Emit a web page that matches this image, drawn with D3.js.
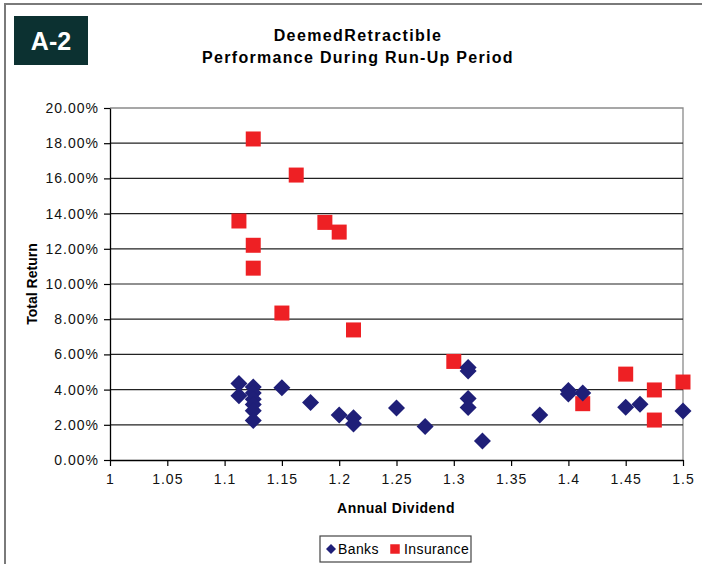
<!DOCTYPE html>
<html><head><meta charset="utf-8">
<script src="https://cdn.jsdelivr.net/npm/d3@7"></script>
<style>body{margin:0;background:#fff}svg{display:block;font-family:"Liberation Sans",Arial,sans-serif}</style>
</head><body><svg id="c" width="702" height="564"></svg>
<script>
const xTicks=[1,1.05,1.1,1.15,1.2,1.25,1.3,1.35,1.4,1.45,1.5];
const xTickLabels=["1","1.05","1.1","1.15","1.2","1.25","1.3","1.35","1.4","1.45","1.5"];
const yTicks=[0,2,4,6,8,10,12,14,16,18,20];
const yTickLabels=["0.00%","2.00%","4.00%","6.00%","8.00%","10.00%","12.00%","14.00%","16.00%","18.00%","20.00%"];
const banksX=[1.1125,1.1125,1.125,1.125,1.125,1.125,1.125,1.125,1.15,1.175,1.2,1.2125,1.2125,1.25,1.275,1.3125,1.3125,1.3125,1.3125,1.325,1.375,1.4,1.4,1.4125,1.45,1.4625,1.5];
const banksY=[4.35,3.65,4.15,3.8,3.45,3.15,2.8,2.25,4.1,3.27,2.55,2.4,2.05,2.95,1.9,5.25,5.05,3.5,2.98,1.08,2.56,3.95,3.75,3.8,3.0,3.17,2.78];
const insX=[1.125,1.1625,1.1125,1.125,1.125,1.1875,1.2,1.15,1.2125,1.3,1.4125,1.45,1.475,1.475,1.5];
const insY=[18.24,16.19,13.58,12.2,10.9,13.5,12.95,8.35,7.39,5.6,3.2,4.88,3.98,2.27,4.43];

const svg=d3.select("#c");
svg.append("rect").attr("x",5).attr("y",4).attr("width",700).attr("height",570).attr("fill","none").attr("stroke","#7a7a7a").attr("stroke-width",2);
svg.append("rect").attr("x",14).attr("y",16).attr("width",74).attr("height",49).attr("fill","#0c3131");
svg.append("text").attr("x",51).attr("y",50).attr("text-anchor","middle").attr("fill","#fff").attr("font-weight","bold").attr("font-size",25).text("A-2");
svg.append("text").attr("x",358).attr("y",41).attr("text-anchor","middle").attr("font-weight","bold").attr("font-size",16).attr("letter-spacing",1.4).text("DeemedRetractible");
svg.append("text").attr("x",358).attr("y",63).attr("text-anchor","middle").attr("font-weight","bold").attr("font-size",16).attr("letter-spacing",1.3).text("Performance During Run-Up Period");

const L=110,R=683,T=108,B=460;
const x=d3.scaleLinear().domain([1,1.5]).range([L,R]);
const y=d3.scaleLinear().domain([0,20]).range([B,T]);

svg.append("path").attr("d",`M${L},${T}H${R}V${B}`).attr("fill","none").attr("stroke","#8a8a8a").attr("stroke-width",1.3);
svg.append("g").selectAll("line").data(yTicks.filter(d=>d>0&&d<20)).join("line")
 .attr("x1",L).attr("x2",R).attr("y1",d=>y(d)).attr("y2",d=>y(d)).attr("stroke","#222").attr("stroke-width",1.2);

const yAxis=d3.axisLeft(y).tickValues(yTicks).tickFormat((d,i)=>yTickLabels[i]).tickSize(6).tickSizeOuter(0).tickPadding(6);
const gy=svg.append("g").attr("transform",`translate(${L},0)`).call(yAxis);
const xAxis=d3.axisBottom(x).tickValues(xTicks).tickFormat((d,i)=>xTickLabels[i]).tickSize(6).tickSizeOuter(0).tickPadding(8);
const gx=svg.append("g").attr("transform",`translate(0,${B})`).call(xAxis);
[gx,gy].forEach(g=>{g.selectAll(".domain").attr("stroke","#000").attr("stroke-width",1.3);g.selectAll(".tick line").attr("stroke","#000").attr("stroke-width",1.2);
 g.selectAll("text").attr("font-size",14).attr("fill","#111").attr("letter-spacing",1).attr("font-family","Liberation Sans, Arial, sans-serif");});
gy.selectAll("text").attr("dx",1);

svg.append("text").attr("x",396).attr("y",513).attr("text-anchor","middle").attr("font-weight","bold").attr("font-size",14).attr("letter-spacing",0.5).text("Annual Dividend");
svg.append("text").attr("transform",`translate(37,${(T+B)/2}) rotate(-90)`).attr("text-anchor","middle").attr("font-weight","bold").attr("font-size",14).text("Total Return");

const navy="#1f1f78", red="#ee2024";
const diaPath=r=>`M0,${-r}L${r},0L0,${r}L${-r},0Z`;
const sq=d3.symbol().type(d3.symbolSquare).size(225);
svg.append("g").selectAll("path").data(insX.map((v,i)=>[v,insY[i]])).join("path")
 .attr("d",sq).attr("transform",d=>`translate(${x(d[0])},${y(d[1])})`).attr("fill",red);
svg.append("g").selectAll("path").data(banksX.map((v,i)=>[v,banksY[i]])).join("path")
 .attr("d",diaPath(8.5)).attr("transform",d=>`translate(${x(d[0])},${y(d[1])})`).attr("fill",navy);

const lg=svg.append("g");
lg.append("rect").attr("x",320).attr("y",536).attr("width",151).attr("height",26).attr("fill","#fff").attr("stroke","#444").attr("stroke-width",1.2);
lg.append("path").attr("d",diaPath(5)).attr("transform","translate(331,549)").attr("fill",navy);
lg.append("text").attr("x",338).attr("y",554).attr("font-size",14).attr("letter-spacing",0.4).text("Banks");
lg.append("path").attr("d",d3.symbol().type(d3.symbolSquare).size(90)).attr("transform","translate(395,549)").attr("fill",red);
lg.append("text").attr("x",404).attr("y",554).attr("font-size",14).attr("letter-spacing",0.4).text("Insurance");
</script></body></html>
